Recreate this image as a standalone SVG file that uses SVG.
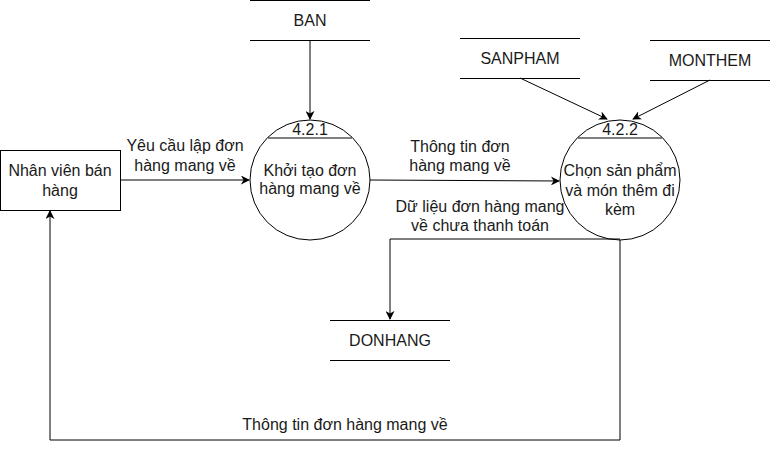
<svg xmlns="http://www.w3.org/2000/svg" width="771" height="449" viewBox="0 0 771 449">
<style>
text{font-family:"Liberation Sans",Arial,Helvetica,sans-serif;font-size:16px;fill:#1a1a1a;text-anchor:middle}
.ln{stroke:#000;stroke-width:1;fill:none}
.ar{stroke:#000;stroke-width:1;fill:none;marker-end:url(#ah)}
</style>
<defs>
<marker id="ah" viewBox="0 0 10 10" refX="9" refY="5" markerWidth="9" markerHeight="9" markerUnits="userSpaceOnUse" orient="auto">
<path d="M0,0 L10,5 L0,10 L3,5 Z" fill="#000"/>
</marker>
</defs>
<rect width="771" height="449" fill="#fff"/>
<g id="connectors">
<path class="ar" d="M310,40 V119"/>
<path class="ar" d="M520,78 L607,119"/>
<path class="ar" d="M710,80 L633,119"/>
<path class="ar" d="M120,180 H249"/>
<path class="ar" d="M370,180 L559,181"/>
<path class="ar" d="M620,239 H390 V319"/>
<path class="ar" d="M620,240 V440 H50 V211"/>
<text x="185" y="151">Yêu cầu lập đơn</text>
<text x="185" y="171">hàng mang về</text>
<text x="460" y="152">Thông tin đơn</text>
<text x="460" y="171">hàng mang về</text>
<text x="480" y="212">Dữ liệu đơn hàng mang</text>
<text x="480" y="231">về chưa thanh toán</text>
<text x="345" y="430">Thông tin đơn hàng mang về</text>
</g>
<g id="nhanvien">
<rect x="0.5" y="150.5" width="120" height="60" class="ln"/>
<text x="60" y="176">Nhân viên bán</text>
<text x="60" y="196">hàng</text>
</g>
<g id="p421">
<circle cx="310" cy="180" r="60" class="ln"/>
<line x1="268" y1="138" x2="352" y2="138" class="ln"/>
<text x="310" y="135">4.2.1</text>
<text x="310" y="176">Khởi tạo đơn</text>
<text x="310" y="194">hàng mang về</text>
</g>
<g id="p422">
<circle cx="620" cy="180" r="60" class="ln"/>
<line x1="578" y1="138" x2="662" y2="138" class="ln"/>
<text x="620" y="135">4.2.2</text>
<text x="620" y="176">Chọn sản phẩm</text>
<text x="620" y="196">và món thêm đi</text>
<text x="620" y="215">kèm</text>
</g>
<g id="ban">
<line x1="250" y1="0.5" x2="370" y2="0.5" class="ln"/>
<line x1="250" y1="40.5" x2="370" y2="40.5" class="ln"/>
<text x="310" y="26">BAN</text>
</g>
<g id="sanpham">
<line x1="460" y1="38.5" x2="580" y2="38.5" class="ln"/>
<line x1="460" y1="78.5" x2="580" y2="78.5" class="ln"/>
<text x="520" y="64">SANPHAM</text>
</g>
<g id="monthem">
<line x1="650" y1="40.5" x2="770" y2="40.5" class="ln"/>
<line x1="650" y1="80.5" x2="770" y2="80.5" class="ln"/>
<text x="710" y="66">MONTHEM</text>
</g>
<g id="donhang">
<line x1="330" y1="320.5" x2="450" y2="320.5" class="ln"/>
<line x1="330" y1="360.5" x2="450" y2="360.5" class="ln"/>
<text x="390" y="346">DONHANG</text>
</g>
</svg>
